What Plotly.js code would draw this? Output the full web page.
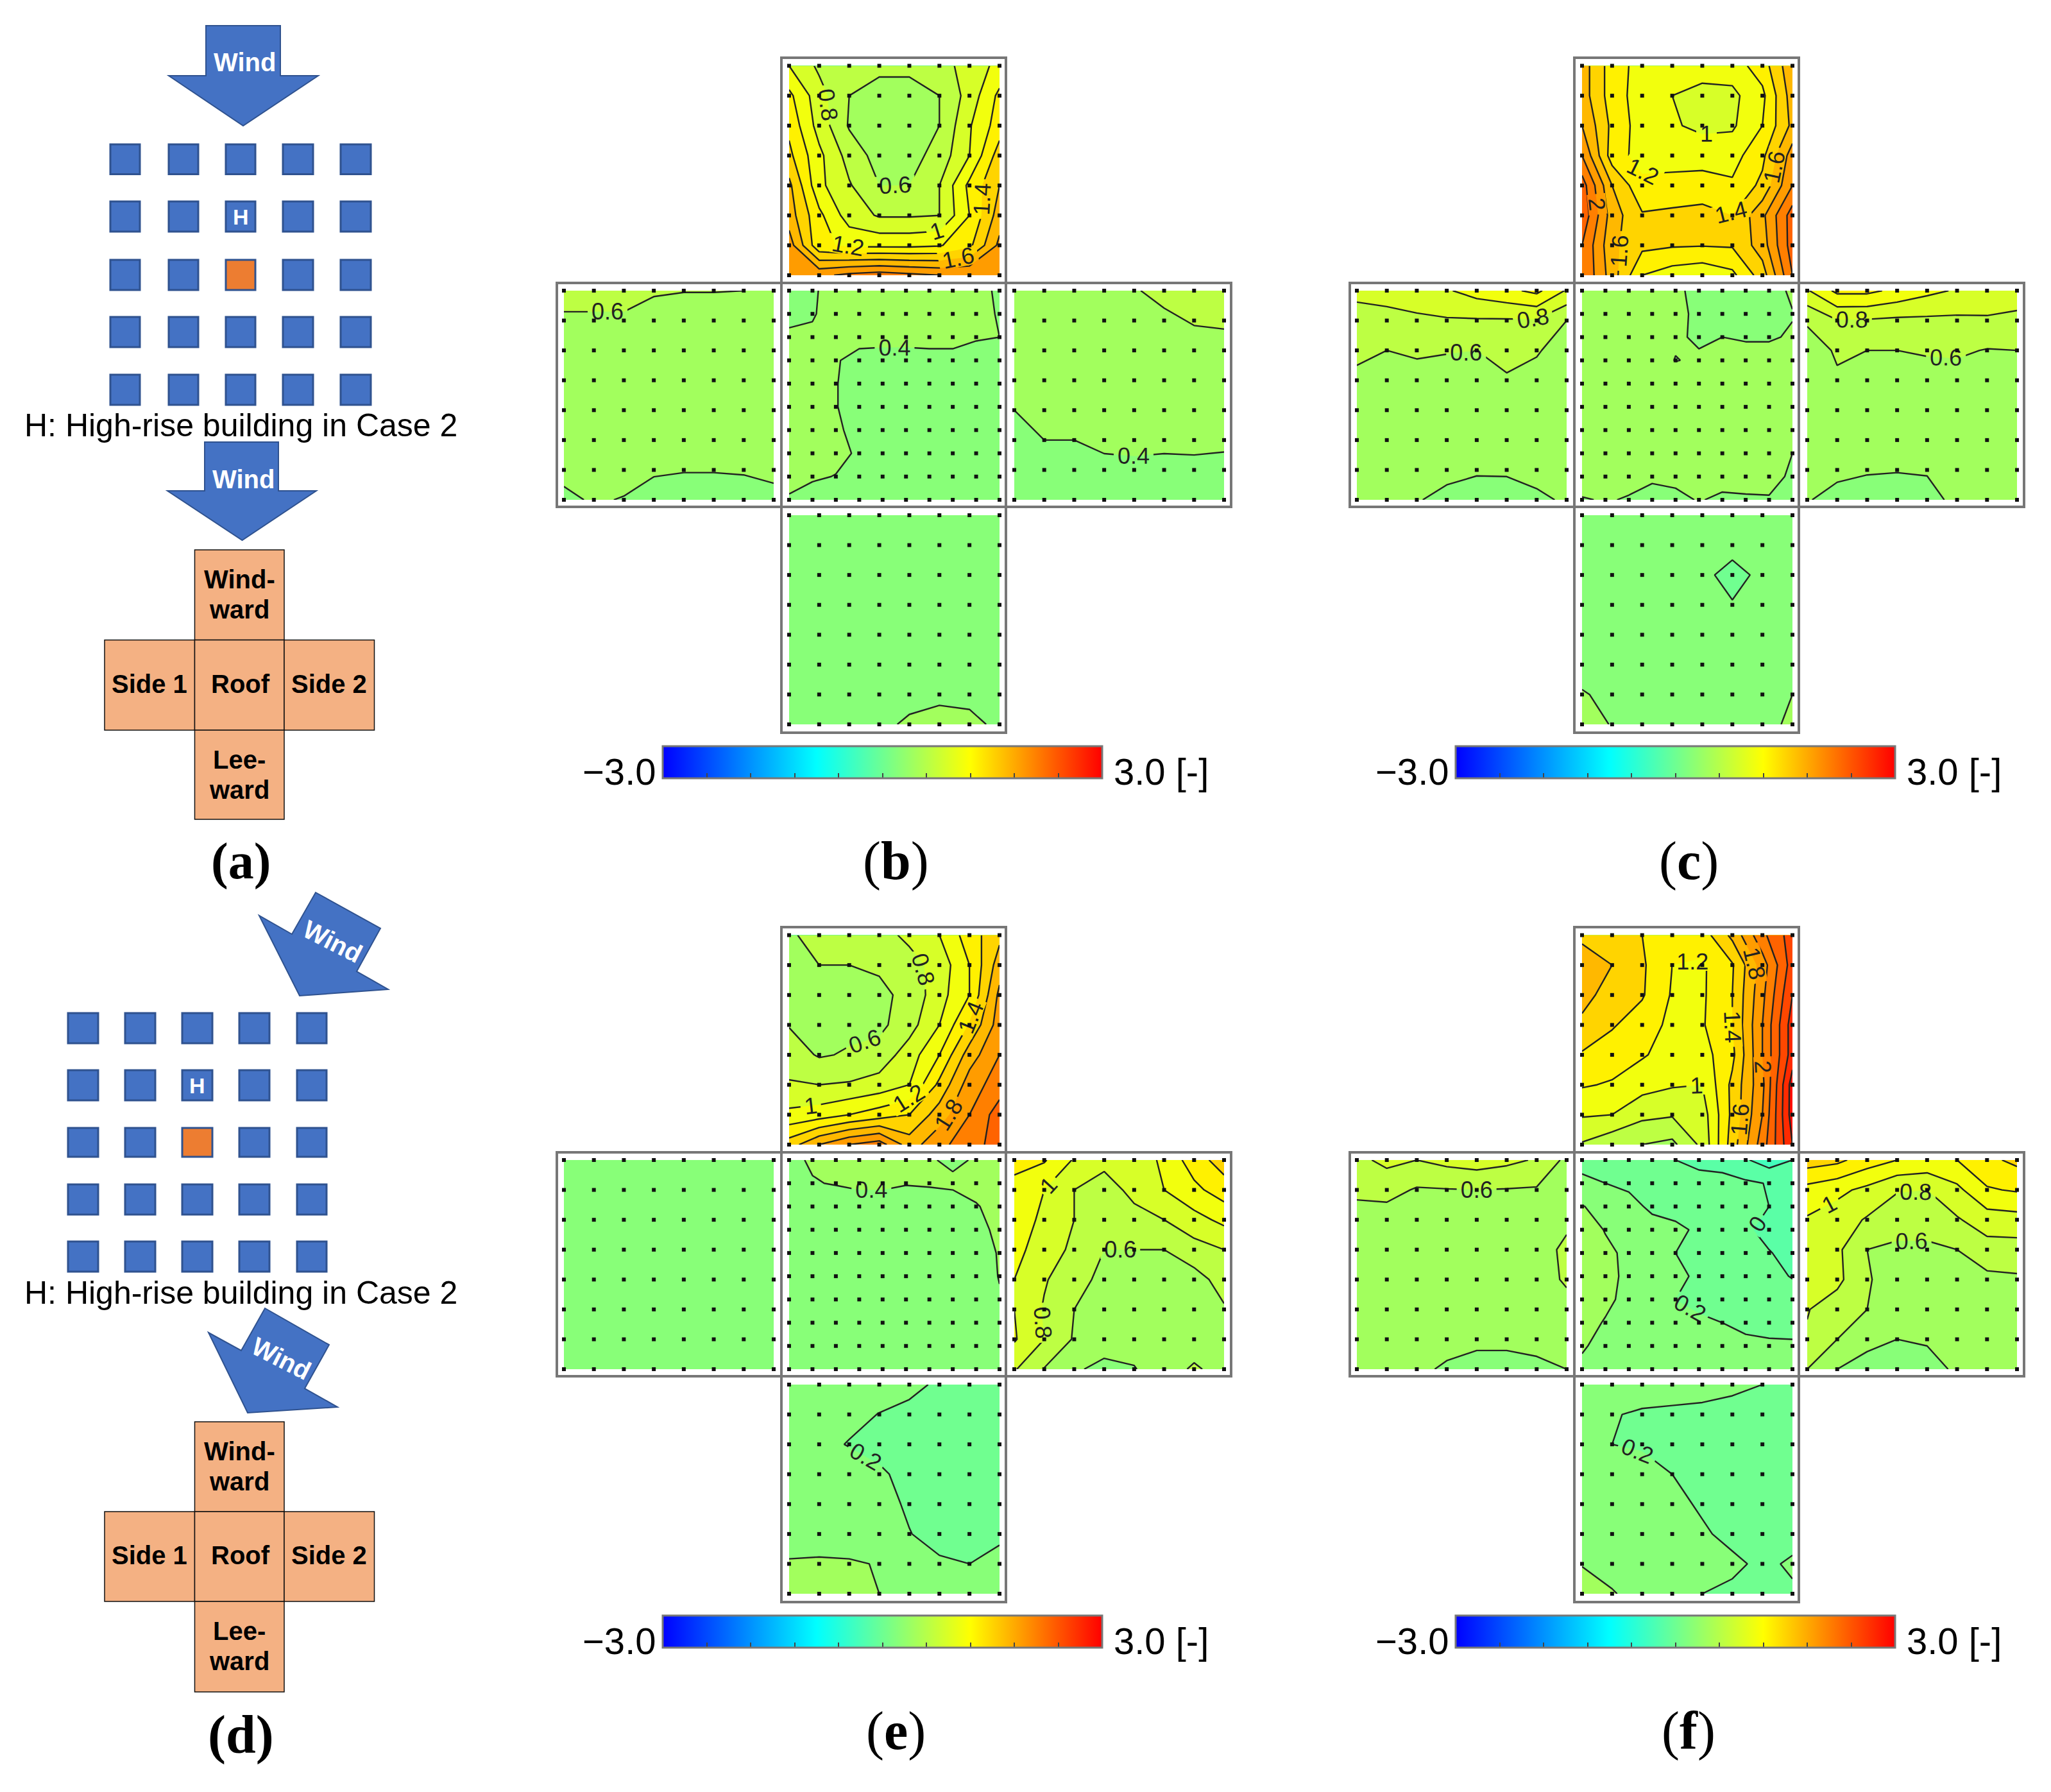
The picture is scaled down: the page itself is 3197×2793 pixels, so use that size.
<!DOCTYPE html>
<html><head><meta charset="utf-8">
<script src="https://cdn.plot.ly/plotly-3.0.1.min.js"></script>
<style>html,body{margin:0;padding:0;background:#fff}</style></head>
<body><div id="chart" style="width:3197px;height:2793px"></div>
<script>
// ---- Pressure-coefficient values read at the measuring points (rows top to bottom) ----
const b_windward=[
[1.0,.76,.68,.66,.66,.7,.9,1.05],
[1.25,.88,.6,.5,.5,.6,.88,1.25],
[1.35,.92,.58,.5,.5,.6,.98,1.3],
[1.45,1.05,.72,.52,.52,.68,1.0,1.5],
[1.65,1.05,.82,.6,.6,.8,1.25,1.6],
[1.7,1.25,.9,.78,.78,.8,1.2,1.7],
[1.9,1.25,1.16,1.15,1.15,1.18,1.35,1.85],
[1.9,1.95,2.05,2.1,2.05,2.0,2.0,1.95]];
const b_side1=[
[.72,.72,.72,.62,.605,.605,.6,.55],
[.55,.55,.55,.52,.52,.52,.52,.52],
[.5,.5,.5,.5,.5,.5,.5,.5],
[.5,.5,.5,.5,.5,.5,.5,.5],
[.5,.5,.5,.5,.5,.5,.5,.5],
[.5,.5,.5,.5,.5,.5,.5,.5],
[.45,.47,.47,.43,.41,.41,.42,.44],
[.36,.42,.39,.3,.3,.3,.3,.35]];
const b_roof=[
[.36,.39,.43,.45,.45,.45,.45,.45,.44,.38],
[.37,.39,.45,.45,.45,.45,.45,.45,.44,.39],
[.42,.42,.43,.44,.44,.44,.45,.45,.41,.4],
[.45,.44,.41,.36,.35,.35,.35,.35,.35,.36],
[.45,.44,.405,.35,.35,.35,.35,.35,.35,.35],
[.45,.44,.405,.35,.35,.35,.35,.35,.35,.35],
[.45,.44,.42,.36,.35,.35,.35,.35,.35,.35],
[.45,.44,.44,.38,.35,.35,.35,.35,.35,.35],
[.43,.42,.395,.35,.35,.35,.35,.35,.35,.35],
[.39,.33,.33,.33,.33,.33,.33,.33,.33,.33]];
const b_side2=[
[.55,.55,.55,.55,.58,.67,.75,.75],
[.52,.52,.52,.52,.52,.55,.62,.64],
[.5,.5,.5,.5,.5,.5,.5,.5],
[.5,.5,.5,.5,.5,.5,.5,.5],
[.4,.5,.5,.5,.5,.5,.5,.5],
[.34,.4,.4,.45,.47,.45,.45,.44],
[.3,.3,.32,.34,.34,.34,.35,.34],
[.3,.3,.3,.3,.3,.3,.3,.3]];
const b_leeward=[
[.3,.3,.3,.3,.3,.3,.3,.3],
[.3,.3,.3,.3,.3,.3,.3,.3],
[.3,.3,.3,.3,.3,.3,.3,.3],
[.3,.3,.3,.3,.3,.3,.3,.3],
[.3,.3,.3,.3,.3,.3,.3,.3],
[.3,.3,.3,.3,.3,.3,.3,.3],
[.32,.32,.32,.33,.36,.36,.35,.33],
[.33,.33,.33,.37,.42,.47,.45,.36]];

const c_windward=[
[1.7,1.3,1.12,1.07,1.07,1.1,1.3,1.75],
[1.7,1.3,1.1,1.0,.95,.95,1.15,1.7],
[1.8,1.35,1.1,1.02,.96,.97,1.2,1.65],
[2.0,1.3,1.12,1.1,1.1,1.12,1.35,1.9],
[2.3,1.6,1.25,1.28,1.3,1.23,1.45,2.0],
[2.35,1.7,1.42,1.44,1.46,1.4,1.75,2.3],
[2.2,1.65,1.45,1.42,1.41,1.42,1.7,2.3],
[2.2,1.7,1.2,1.1,1.05,1.15,1.5,2.2]];
const c_side1=[
[.85,.88,.92,.98,1.08,1.15,1.25,.98],
[.72,.73,.76,.78,.78,.78,.78,.6],
[.65,.6,.62,.61,.6,.66,.62,.5],
[.55,.52,.55,.53,.52,.58,.53,.5],
[.5,.5,.5,.5,.5,.5,.5,.5],
[.5,.5,.5,.5,.5,.5,.5,.5],
[.48,.48,.46,.44,.42,.42,.45,.46],
[.44,.43,.41,.36,.32,.33,.37,.42]];
const c_side2=[
[.98,1.25,1.25,1.15,1.05,.98,.95,.9],
[.62,.79,.78,.76,.76,.76,.77,.75],
[.52,.62,.6,.6,.62,.63,.59,.6],
[.5,.58,.52,.52,.52,.52,.5,.5],
[.5,.5,.5,.5,.5,.5,.5,.5],
[.5,.5,.5,.5,.5,.5,.5,.5],
[.48,.47,.42,.41,.41,.44,.46,.48],
[.42,.3,.3,.3,.36,.43,.45,.47]];
const c_roof=[
[.5,.5,.5,.5,.42,.37,.35,.35,.35,.42],
[.5,.5,.5,.5,.45,.36,.35,.35,.35,.395],
[.5,.5,.5,.5,.42,.38,.4,.39,.39,.41],
[.5,.5,.5,.47,.395,.42,.44,.44,.44,.44],
[.5,.5,.5,.5,.5,.5,.5,.5,.5,.5],
[.5,.5,.5,.5,.5,.5,.5,.5,.5,.5],
[.5,.5,.5,.5,.5,.5,.5,.5,.5,.5],
[.5,.5,.5,.5,.5,.5,.5,.5,.5,.4],
[.47,.46,.44,.43,.44,.46,.46,.46,.44,.38],
[.39,.41,.39,.33,.36,.41,.37,.38,.39,.36]];
const c_leeward=[
[.3,.3,.3,.3,.3,.3,.3,.3],
[.3,.3,.3,.3,.3,.3,.3,.3],
[.3,.3,.3,.3,.27,.1,.27,.3],
[.3,.3,.3,.3,.3,.22,.3,.3],
[.3,.3,.3,.3,.3,.3,.3,.3],
[.3,.3,.3,.3,.3,.3,.3,.3],
[.42,.34,.33,.33,.33,.33,.35,.4],
[.48,.39,.33,.33,.33,.33,.35,.43]];

const e_windward=[
[.58,.65,.68,.72,.85,1.0,1.3,1.55],
[.6,.6,.6,.63,.72,.88,1.2,1.7],
[.55,.55,.55,.55,.66,.92,1.2,1.85],
[.59,.55,.55,.55,.72,1.0,1.42,1.9],
[.7,.58,.62,.68,.9,1.2,1.7,2.0],
[.82,.8,.82,.88,1.0,1.45,1.9,2.1],
[1.05,1.1,1.2,1.3,1.4,1.7,2.0,2.3],
[1.5,1.8,2.0,2.1,1.7,1.95,2.1,2.3]];
const e_side1=[
[.3,.3,.3,.3,.3,.3,.3,.3],
[.3,.3,.3,.3,.3,.3,.3,.3],
[.3,.3,.3,.3,.3,.3,.3,.3],
[.3,.3,.3,.3,.3,.3,.3,.3],
[.3,.3,.3,.3,.3,.3,.3,.3],
[.3,.3,.3,.3,.3,.3,.3,.3],
[.3,.3,.3,.3,.3,.3,.3,.3],
[.3,.3,.3,.3,.3,.3,.3,.3]];
const e_roof=[
[.38,.41,.45,.45,.45,.45,.41,.38,.41,.45],
[.35,.395,.405,.42,.42,.405,.41,.42,.45,.47],
[.35,.35,.35,.35,.35,.35,.35,.35,.39,.45],
[.32,.32,.32,.32,.32,.32,.32,.32,.36,.43],
[.32,.32,.32,.32,.32,.32,.32,.32,.34,.41],
[.32,.32,.32,.32,.32,.32,.32,.32,.34,.405],
[.32,.32,.32,.32,.32,.32,.32,.32,.34,.39],
[.32,.32,.32,.32,.32,.32,.32,.32,.34,.395],
[.32,.32,.32,.32,.32,.32,.32,.32,.33,.37],
[.32,.32,.32,.32,.32,.32,.32,.32,.32,.35]];
const e_side2=[
[1.3,1.22,.98,.85,.85,1.05,1.3,1.5],
[1.1,1.0,.8,.72,.85,1.0,1.15,1.3],
[1.05,.98,.8,.72,.74,.8,.93,1.05],
[1.05,.92,.75,.6,.6,.6,.72,.8],
[1.0,.82,.67,.55,.5,.5,.52,.68],
[1.0,.78,.6,.5,.5,.5,.5,.58],
[1.02,.8,.58,.47,.47,.47,.49,.52],
[.82,.59,.42,.36,.39,.5,.63,.52]];
const e_leeward=[
[.3,.3,.3,.28,.25,.17,.15,.15],
[.3,.3,.25,.195,.15,.15,.15,.15],
[.3,.25,.19,.18,.15,.15,.15,.15],
[.3,.3,.3,.21,.18,.15,.15,.15],
[.3,.3,.3,.25,.18,.15,.15,.15],
[.3,.3,.3,.3,.205,.15,.15,.17],
[.42,.43,.42,.39,.3,.22,.2,.25],
[.5,.5,.5,.4,.3,.3,.3,.3]];

const f_windward=[
[1.55,1.5,1.4,1.3,1.3,1.65,2.15,2.5],
[1.72,1.6,1.43,1.2,1.17,1.38,1.9,2.5],
[1.68,1.5,1.42,1.18,1.17,1.4,1.95,2.6],
[1.55,1.42,1.3,1.15,1.18,1.4,2.0,2.7],
[1.38,1.3,1.22,1.12,1.12,1.35,2.0,2.7],
[1.22,1.18,1.08,1.02,1.0,1.45,1.95,2.9],
[1.02,1.0,.85,.82,.9,1.45,2.0,2.9],
[.78,.65,.6,.55,.85,1.5,2.1,2.8]];
const f_side1=[
[.75,.85,.8,.86,.9,.85,.78,.55],
[.65,.67,.58,.59,.6,.59,.58,.52],
[.5,.5,.5,.5,.5,.5,.5,.55],
[.5,.5,.5,.5,.5,.5,.5,.65],
[.5,.5,.5,.5,.5,.5,.5,.63],
[.5,.5,.5,.5,.5,.5,.5,.52],
[.47,.47,.47,.45,.46,.46,.48,.46],
[.46,.45,.43,.38,.3,.3,.34,.4]];
const f_roof=[
[.17,.15,.14,.12,0,-.06,-.06,-.18,-.3,-.2],
[.22,.2,.17,.14,.12,.08,.05,.03,-.01,-.05],
[.41,.33,.25,.17,.13,.1,.08,.05,0,-.08],
[.5,.39,.32,.26,.24,.17,.1,.03,-.06,-.1],
[.5,.44,.36,.28,.2,.14,.1,.05,.01,-.06],
[.5,.44,.37,.3,.24,.17,.12,.08,.05,-.01],
[.5,.43,.36,.28,.2,.17,.14,.12,.1,.08],
[.45,.39,.35,.3,.26,.22,.2,.16,.14,.15],
[.41,.37,.34,.32,.3,.28,.25,.24,.23,.22],
[.38,.33,.32,.3,.3,.3,.3,.3,.3,.3]];
const f_side2=[
[1.5,1.45,1.3,1.2,1.15,1.2,1.35,1.45],
[1.13,1.05,.95,.81,.8,.95,1.18,1.22],
[.98,.9,.78,.72,.72,.78,.9,.92],
[.9,.84,.6,.55,.55,.6,.72,.72],
[.85,.85,.62,.5,.5,.5,.55,.57],
[.81,.7,.6,.5,.5,.5,.5,.5],
[.78,.6,.47,.4,.42,.45,.47,.48],
[.6,.4,.3,.3,.33,.43,.45,.46]];
const f_leeward=[
[.3,.3,.28,.27,.26,.23,.2,.17],
[.3,.21,.18,.17,.16,.15,.15,.15],
[.3,.2,.17,.15,.15,.15,.15,.15],
[.3,.3,.3,.2,.16,.15,.15,.15],
[.3,.3,.3,.24,.18,.15,.15,.15],
[.3,.3,.3,.3,.22,.16,.15,.15],
[.39,.3,.3,.3,.26,.23,.17,.22],
[.5,.42,.3,.3,.2,.17,.15,.18]];

const barTicks=[-2.4,-1.8,-1.2,-0.6,0,0.6,1.2,1.8,2.4];
const barMin=-3, barMax=3;
const panelLetters=['b','c','e','f'];
const panelData={
 b:{windward:b_windward,side1:b_side1,roof:b_roof,side2:b_side2,leeward:b_leeward},
 c:{windward:c_windward,side1:c_side1,roof:c_roof,side2:c_side2,leeward:c_leeward},
 e:{windward:e_windward,side1:e_side1,roof:e_roof,side2:e_side2,leeward:e_leeward},
 f:{windward:f_windward,side1:f_side1,roof:f_roof,side2:f_side2,leeward:f_leeward}};
const caseLabel='H: High-rise building in Case 2';
const faceNames=[['Wind-','ward'],['Side 1'],['Roof'],['Side 2'],['Lee-','ward']];

// ---- Layout geometry (page pixels) ----
const W=3197,H=2793;
const offsets={b:[0,0],c:[1236,0],e:[0,1355],f:[1236,1355]};
const faces={windward:[1230,1558,102.5,429],side1:[879,1206,453,779],roof:[1230,1558,453,779],side2:[1581,1908,453,779],leeward:[1230,1558,803,1129]};
const frames=[[1218,90,1568,441],[868,441,1919,790],[1218,441,1568,790],[1218,790,1568,1142]];
const jetBar=[[0,'#0000ff'],[0.35,'#00ffff'],[0.525,'#80ff80'],[0.7,'#ffff00'],[1,'#ff0000']];
const jetFill=[[0,'#0000ff'],[0.35,'#00ffff'],[0.54,'#80ff80'],[0.7,'#ffff00'],[1,'#ff0000']];
const lin=(a,b,n)=>Array.from({length:n},(_,i)=>a+(b-a)*i/(n-1));

const traces=[],shapes=[],annotations=[];
const txt=(x,y,text,size,o={})=>annotations.push(Object.assign({x,y,text,xref:'x',yref:'y',showarrow:false,xanchor:'center',yanchor:'middle',
  font:{family:o.family||'Liberation Sans',size,color:o.color||'#000'}},o.extra||{}));

panelLetters.forEach(p=>{
 const [dx,dy]=offsets[p];
 const dotX=[],dotY=[];
 Object.keys(faces).forEach(name=>{
  const f=faces[name],z=panelData[p][name];
  const xs=lin(f[0]+dx,f[1]+dx,z[0].length),ys=lin(f[2]+dy,f[3]+dy,z.length);
  traces.push({type:'contour',x:xs,y:ys,z:z,zauto:false,zmin:barMin,zmax:barMax,colorscale:jetFill,showscale:false,autocontour:false,
    contours:{start:-3,end:3,size:0.2,coloring:'fill',showlines:true,showlabels:true,labelformat:'.1~f',labelfont:{family:'Liberation Sans',size:36,color:'#222'}},
    line:{color:'#222',width:2.4,smoothing:0},hoverinfo:'skip'});
  ys.forEach(y=>xs.forEach(x=>{dotX.push(x);dotY.push(y);}));
 });
 traces.push({type:'scatter',mode:'markers',x:dotX,y:dotY,marker:{symbol:'square',size:6,color:'#111'},hoverinfo:'skip',showlegend:false});
 frames.forEach(r=>shapes.push({type:'rect',xref:'x',yref:'y',x0:r[0]+dx,y0:r[1]+dy,x1:r[2]+dx,y1:r[3]+dy,line:{color:'#777',width:4},layer:'above'}));
 // colour bar through the library's own colour scale
 const bx0=1033.5+dx,bx1=1718+dx,by0=1163+dy;
 traces.push({type:'scatter',mode:'markers',x:[bx0],y:[by0],showlegend:false,hoverinfo:'skip',
  marker:{opacity:0,color:[0],cmin:barMin,cmax:barMax,colorscale:jetBar,showscale:true,
   colorbar:{orientation:'h',x:(bx0+bx1)/2/W,xanchor:'center',xref:'paper',y:1-by0/H,yanchor:'top',yref:'paper',len:bx1-bx0,lenmode:'pixels',thickness:50,thicknessmode:'pixels',xpad:0,ypad:0,
    outlinewidth:3,outlinecolor:'#777',borderwidth:0,ticks:'inside',ticklen:9,tickwidth:2,tickcolor:'#444',tickmode:'array',tickvals:barTicks,showticklabels:false}}});
 txt(1025+dx,1202+dy,'\u22123.0',58,{extra:{xanchor:'right'}});
 txt(1734+dx,1202+dy,'3.0 [-]',58,{extra:{xanchor:'left'}});
 const lx=(p==='c'||p==='f')?1396:1396;
 txt(lx+dx,(p==='e'||p==='f')?1343+dy:1342+dy,'(<b>'+p+'</b>)',84,{family:'Liberation Serif'});
});

// ---- Left-hand schematics ----
const BLUE='#4472C4',EDGE='#2F528F',ORANGE='#ED7D31',PEACH='#F4B183';
const poly=(pts,fill,line)=>shapes.push({type:'path',xref:'x',yref:'y',path:'M'+pts.map(q=>q.join(' ')).join('L')+'Z',fillcolor:fill,line:{color:line,width:2}});
const rect=(x0,y0,x1,y1,fill,line,w)=>shapes.push({type:'rect',xref:'x',yref:'y',x0,y0,x1,y1,fillcolor:fill,line:{color:line,width:w}});

function blocks(colsX,rowsY){
 rowsY.forEach((ry,j)=>colsX.forEach((cx,i)=>{
  const orange=(i===2&&j===2);
  rect(cx[0],ry[0],cx[1],ry[1],orange?ORANGE:BLUE,EDGE,3);
 }));
 txt((colsX[2][0]+colsX[2][1])/2,(rowsY[1][0]+rowsY[1][1])/2,'<b>H</b>',34,{color:'#fff'});
}
function cross(y0,y1,y2,y3){
 const xs=[163,303.5,443,583.5];
 rect(xs[1],y0,xs[2],y1,PEACH,'#111',1.5);
 rect(xs[0],y1,xs[1],y2,PEACH,'#111',1.5);
 rect(xs[1],y1,xs[2],y2,PEACH,'#111',1.5);
 rect(xs[2],y1,xs[3],y2,PEACH,'#111',1.5);
 rect(xs[1],y2,xs[2],y3,PEACH,'#111',1.5);
 const S=40;
 txt(373,y0+46,'<b>'+faceNames[0][0]+'</b>',S); txt(373,y0+93,'<b>'+faceNames[0][1]+'</b>',S);
 txt(233,(y1+y2)/2-2,'<b>'+faceNames[1][0]+'</b>',S);
 txt(375,(y1+y2)/2-2,'<b>'+faceNames[2][0]+'</b>',S);
 txt(513,(y1+y2)/2-2,'<b>'+faceNames[3][0]+'</b>',S);
 txt(373,y2+46,'<b>'+faceNames[4][0]+'</b>',S); txt(373,y2+93,'<b>'+faceNames[4][1]+'</b>',S);
}
const colsA=[[172,218],[263,309],[352,398],[441,488],[531,578]];
const rowsA=[[225,271.5],[314,361],[405,452],[494,541],[584,631]];
const colsD=[[106,153],[195,242],[284,331],[373,420],[463,509]];
const rowsD=[[1579,1626],[1668,1715],[1758,1803],[1846,1893],[1935,1982]];

poly([[321,40],[437,40],[437,118],[496,118],[379,196],[263,118],[321,118]],BLUE,EDGE);
txt(381,97,'<b>Wind</b>',40,{color:'#fff'});
blocks(colsA,rowsA);
txt(375,663,caseLabel,50);
poly([[319,689],[434,689],[434,765],[493,765],[377.5,842],[261,765],[319,765]],BLUE,EDGE);
txt(379,747,'<b>Wind</b>',40,{color:'#fff'});
cross(857,997.5,1138,1277);
txt(375,1342,'<b>(a)</b>',80,{family:'Liberation Serif'});

poly([[492,1391],[593,1447],[556,1514],[605,1542],[467,1552],[404,1427],[455,1456]],BLUE,EDGE);
txt(518,1467,'<b>Wind</b>',40,{color:'#fff',extra:{textangle:27}});
blocks(colsD,rowsD);
txt(375,2015,caseLabel,50);
poly([[413,2039],[513,2096],[475,2164],[526,2193],[386,2202],[325,2077],[376,2105]],BLUE,EDGE);
txt(438,2117,'<b>Wind</b>',40,{color:'#fff',extra:{textangle:27}});
cross(2216,2356,2496,2637);
txt(375,2704,'<b>(d)</b>',84,{family:'Liberation Serif'});

Plotly.newPlot('chart',traces,{
 width:W,height:H,margin:{l:0,r:0,t:0,b:0},paper_bgcolor:'#fff',plot_bgcolor:'#fff',showlegend:false,
 xaxis:{range:[0,W],visible:false,fixedrange:true},
 yaxis:{range:[H,0],visible:false,fixedrange:true},
 shapes:shapes,annotations:annotations
},{staticPlot:true,displayModeBar:false});
</script></body></html>
